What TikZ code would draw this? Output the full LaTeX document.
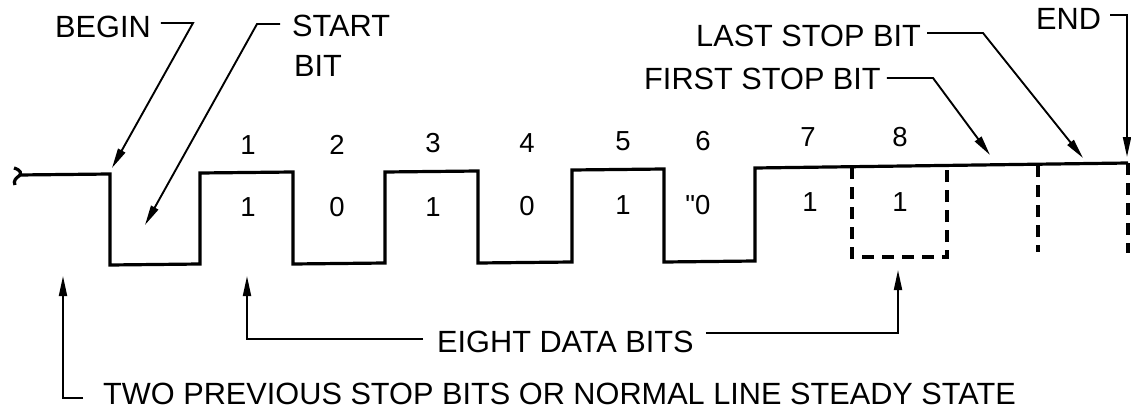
\documentclass[tikz,border=0pt]{standalone}
\usepackage{fontspec}
\setmainfont{Liberation Sans}
\newfontfamily\rawfont{Liberation Sans}
\usetikzlibrary{arrows.meta}
\tikzset{
  wave/.style={line width=3.2pt, line join=miter},
  dsh/.style={line width=3.2pt, dash pattern=on 12pt off 8pt},
  lead/.style={line width=1.9pt},
  leadarr/.style={lead, -{Triangle[length=20pt,width=8pt]}},
  lbl/.style={inner sep=0pt, anchor=base west, font=\fontsize{30.7}{36}\selectfont},
  num/.style={inner sep=0pt, font=\fontsize{27.5}{32}\selectfont}
}
\begin{document}
\begin{tikzpicture}[x=1pt,y=-1pt]
\useasboundingbox (0,0) rectangle (1131,409);
% waveform
\draw[wave] (14,168) .. controls (21,170) and (22,174) .. (19,176) .. controls (16,178) and (13,181) .. (15,185);
\draw[wave] (19,175) -- (110,174) -- (110,265) -- (200,264) -- (200,173) -- (293,172) -- (293,264)
  -- (385,263) -- (385,172) -- (478,171) -- (478,263) -- (572,262) -- (572,170) -- (664,169)
  -- (664,262) -- (755,261) -- (755,168) -- (1128,163);
\draw[dsh] (852,167) -- (852,257) -- (947,257) -- (947,166);
\draw[dsh] (1038,165) -- (1038,252);
\draw[dsh] (1128,163) -- (1128,253);
% bit numbers
\node[num] (n1) at (248,145) {1};
\node[num] (n2) at (337,145) {2};
\node[num] (n3) at (433,143) {3};
\node[num] (n4) at (527,143) {4};
\node[num] (n5) at (623,141) {5};
\node[num] (n6) at (703,141) {6};
\node[num] (n7) at (808,137) {7};
\node[num] (n8) at (900,137) {8};
% bit values
\node[num] (v1) at (248,207) {1};
\node[num] (v2) at (337,207) {0};
\node[num] (v3) at (433,207) {1};
\node[num] (v4) at (527,206) {0};
\node[num] (v5) at (623,205) {1};
\node[num] (v6) at (698,205) {{\rawfont"0}};
\node[num] (v7) at (810,202) {1};
\node[num] (v8) at (900,202) {1};
% labels
\node[lbl] (begin) at (55,38) {BEGIN};
\node[lbl] (start) at (292,37) {START};
\node[lbl] (startbit) at (294,77) {BIT};
\node[lbl] (endl) at (1036,30) {END};
\node[lbl] (last) at (696,47) {LAST STOP BIT};
\node[lbl] (first) at (644,90) {FIRST STOP BIT};
\node[lbl] (eight) at (437,352) {EIGHT DATA BITS};
\node[lbl] (two) at (103,404) {TWO PREVIOUS STOP BITS OR NORMAL LINE STEADY STATE};
% bends
\coordinate (bBegin) at (193,23);
\coordinate (bStart) at (257,24);
\coordinate (bLast) at (983,33);
\coordinate (bFirst) at (933,78);
\coordinate (bEnd) at (1127,15);
\coordinate (bTwo) at (63,398);
\coordinate (bD1) at (247,339);
\coordinate (bD8) at (898,333);
% arrow targets
\coordinate (tBegin) at (112,168);
\coordinate (tStart) at (145,225);
\coordinate (tLast) at (1083,158);
\coordinate (tFirst) at (990,155);
\coordinate (tEnd) at (1127,157);
\coordinate (tTwo) at (63,276);
\coordinate (tD1) at (247,276);
\coordinate (tD8) at (898,270);
% leaders
\draw[leadarr] ([xshift=10pt]begin.east |- bBegin) -- (bBegin) -- (tBegin);
\draw[leadarr] ([xshift=-12pt]start.west |- bStart) -- (bStart) -- (tStart);
\draw[leadarr] ([xshift=6pt]last.east |- bLast) -- (bLast) -- (tLast);
\draw[leadarr] ([xshift=6pt]first.east |- bFirst) -- (bFirst) -- (tFirst);
\draw[leadarr] ([xshift=9pt]endl.east |- bEnd) -- (bEnd) -- (tEnd);
\draw[leadarr] ([xshift=-20pt]two.west |- bTwo) -- (bTwo) -- (tTwo);
\draw[leadarr] ([xshift=-14pt]eight.west |- bD1) -- (bD1) -- (tD1);
\draw[leadarr] ([xshift=12pt]eight.east |- bD8) -- (bD8) -- (tD8);
\end{tikzpicture}
\end{document}
